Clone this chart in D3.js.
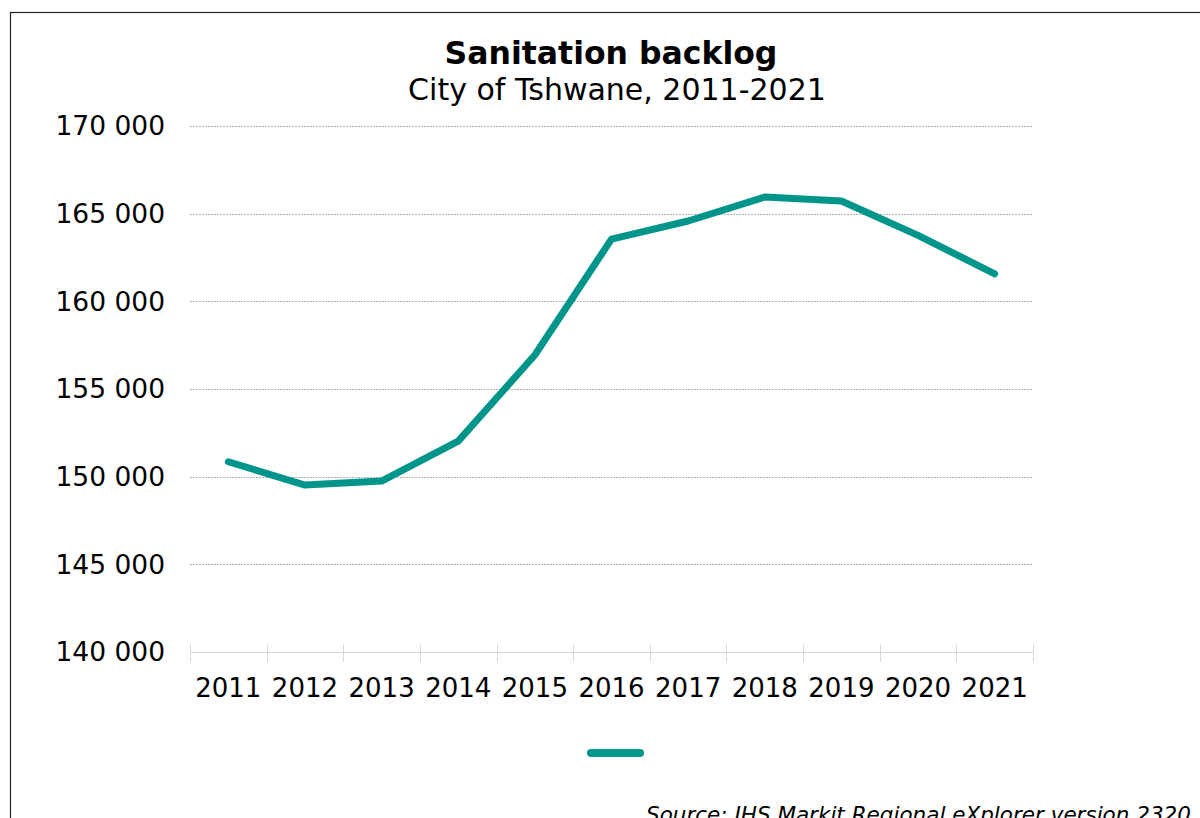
<!DOCTYPE html>
<html>
<head>
<meta charset="utf-8">
<script src="https://cdn.jsdelivr.net/npm/d3@7"></script>
<style>
  body { margin: 0; background: #fff; }
  svg { display: block; font-family: "DejaVu Sans", Verdana, sans-serif; }
</style>
</head>
<body>
<svg id="chart" width="1200" height="818"></svg>
<script>
const years = ['2011', '2012', '2013', '2014', '2015', '2016', '2017', '2018', '2019', '2020', '2021'];
const backlog = [150850, 149520, 149750, 152030, 156940, 163550, 164580, 165950, 165720, 163760, 161570];
const yTicks = [140000, 145000, 150000, 155000, 160000, 165000, 170000];

const svg = d3.select('#chart');
const lineColor = '#00958a';

const margin = { top: 126, left: 190, right: 1033, bottom: 652 };

// outer frame, right and bottom edges run off the picture
svg.append('rect')
  .attr('x', 10.5).attr('y', 12.5)
  .attr('width', 1300).attr('height', 900)
  .attr('fill', 'none').attr('stroke', '#222').attr('stroke-width', 1.2);

const x = d3.scaleBand()
  .domain(years)
  .range([margin.left, margin.right]);

const y = d3.scaleLinear()
  .domain([140000, 170000])
  .range([margin.bottom, margin.top]);

const fmt = (v) => d3.format(',')(v).replace(/,/g, ' ');

// gridlines
svg.append('g')
  .selectAll('line')
  .data(yTicks.filter((t) => t !== 140000))
  .enter()
  .append('line')
  .attr('x1', margin.left).attr('x2', margin.right)
  .attr('y1', (d) => Math.round(y(d)) + 0.5).attr('y2', (d) => Math.round(y(d)) + 0.5)
  .attr('stroke', '#b0b0b0').attr('stroke-width', 1)
  .attr('stroke-dasharray', '2,1');

// y labels
svg.append('g')
  .selectAll('text')
  .data(yTicks)
  .enter()
  .append('text')
  .attr('x', 165)
  .attr('y', (d) => y(d))
  .attr('dy', '0.35em')
  .attr('text-anchor', 'end')
  .attr('font-size', 26.5)
  .attr('fill', '#000')
  .text(fmt);

// x axis line and tick marks at category boundaries
const xAxis = svg.append('g');
xAxis.append('line')
  .attr('x1', margin.left).attr('x2', margin.right)
  .attr('y1', margin.bottom + 0.5).attr('y2', margin.bottom + 0.5)
  .attr('stroke', '#d9d9d9').attr('stroke-width', 1);
const bounds = years.map((d) => x(d)).concat([margin.right]);
xAxis.selectAll('.tick')
  .data(bounds)
  .enter()
  .append('line')
  .attr('class', 'tick')
  .attr('x1', (d) => Math.round(d) + 0.5).attr('x2', (d) => Math.round(d) + 0.5)
  .attr('y1', margin.bottom - 8).attr('y2', margin.bottom + 10)
  .attr('stroke', '#d9d9d9').attr('stroke-width', 1);
xAxis.selectAll('text')
  .data(years)
  .enter()
  .append('text')
  .attr('x', (d) => x(d) + x.bandwidth() / 2)
  .attr('y', 697)
  .attr('text-anchor', 'middle')
  .attr('font-size', 26)
  .attr('fill', '#000')
  .text((d) => d);

// series line
const line = d3.line()
  .x((d, i) => x(years[i]) + x.bandwidth() / 2)
  .y((d) => y(d));

svg.append('path')
  .datum(backlog)
  .attr('d', line)
  .attr('fill', 'none')
  .attr('stroke', lineColor)
  .attr('stroke-width', 7)
  .attr('stroke-linecap', 'round')
  .attr('stroke-linejoin', 'round');

// legend swatch (series has no name)
svg.append('line')
  .attr('x1', 591).attr('x2', 640)
  .attr('y1', 753).attr('y2', 753)
  .attr('stroke', lineColor)
  .attr('stroke-width', 8)
  .attr('stroke-linecap', 'round');

// titles
svg.append('text')
  .attr('x', 611).attr('y', 64)
  .attr('text-anchor', 'middle')
  .attr('font-size', 31.5)
  .attr('font-weight', 'bold')
  .text('Sanitation backlog');

svg.append('text')
  .attr('x', 617).attr('y', 100)
  .attr('text-anchor', 'middle')
  .attr('font-size', 30)
  .text('City of Tshwane, 2011-2021');

svg.append('text')
  .attr('x', 646).attr('y', 822)
  .attr('font-size', 21.5)
  .attr('font-style', 'italic')
  .text('Source: IHS Markit Regional eXplorer version 2320');
</script>
</body>
</html>
